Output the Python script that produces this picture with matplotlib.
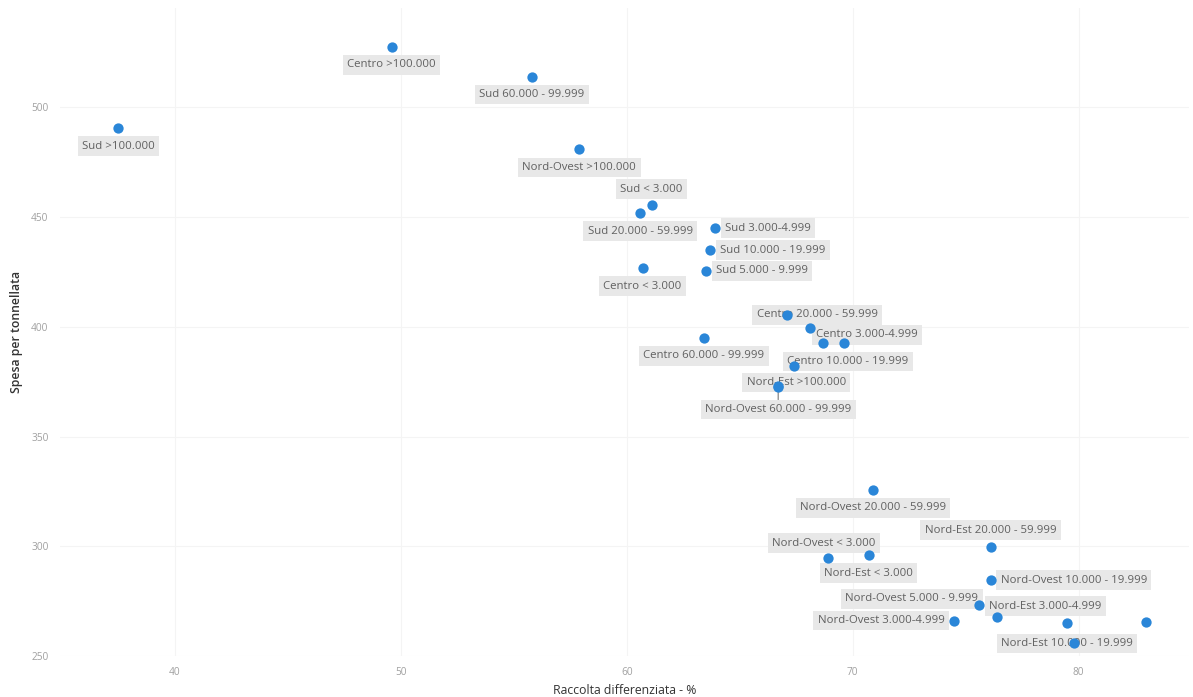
import matplotlib
matplotlib.use('Agg')
from matplotlib import pyplot as plt

# gruppi (area + fascia di popolazione); "" = punto senza etichetta
gruppi = ['Sud >100.000', 'Centro >100.000', 'Sud 60.000 - 99.999',
          'Nord-Ovest >100.000', 'Sud < 3.000', 'Sud 20.000 - 59.999',
          'Sud 3.000-4.999', 'Sud 10.000 - 19.999', 'Sud 5.000 - 9.999',
          'Centro < 3.000', 'Centro 60.000 - 99.999', 'Centro 20.000 - 59.999',
          'Centro 3.000-4.999', '', '', 'Centro 10.000 - 19.999',
          'Nord-Est >100.000', 'Nord-Ovest 60.000 - 99.999',
          'Nord-Ovest 20.000 - 59.999', 'Nord-Est 20.000 - 59.999',
          'Nord-Ovest < 3.000', 'Nord-Est < 3.000',
          'Nord-Ovest 10.000 - 19.999', 'Nord-Ovest 5.000 - 9.999',
          'Nord-Est 3.000-4.999', 'Nord-Ovest 3.000-4.999', '',
          'Nord-Est 10.000 - 19.999', '']
raccolta = [37.5, 49.6, 55.8, 57.9, 61.1, 60.6, 63.9, 63.7, 63.5,
            60.7, 63.4, 67.1, 68.1, 68.7, 69.6, 67.4, 66.7, 66.7,
            70.9, 76.1, 68.9, 70.7, 76.1, 75.6, 76.4, 74.5, 79.5,
            79.8, 83.0]
spesa = [490.5, 527.7, 514.1, 480.9, 455.5, 451.8, 445.0, 435.0, 425.5,
         426.8, 395.0, 405.5, 399.5, 392.7, 392.7, 382.3, 373.2, 372.8,
         325.7, 299.5, 294.5, 295.9, 284.5, 273.2, 267.7, 266.1, 264.8,
         255.7, 265.5]

# posizione etichette (pixel rispetto al punto, allineamento orizzontale)
pos = {
    'Sud 3.000-4.999': (10, 0, 'left'),
    'Sud 10.000 - 19.999': (10, 0, 'left'),
    'Sud 5.000 - 9.999': (10, 0, 'left'),
    'Sud < 3.000': (0, 16, 'center'),
    'Centro 20.000 - 59.999': (30, 0, 'center'),
    'Centro 3.000-4.999': (57, -7, 'center'),
    'Centro 10.000 - 19.999': (54, 4, 'center'),
    'Nord-Est >100.000': (18, 3, 'center'),
    'Nord-Ovest 60.000 - 99.999': (0, -23, 'center'),
    'Nord-Est 20.000 - 59.999': (0, 17, 'center'),
    'Nord-Ovest < 3.000': (-4, 15, 'center'),
    'Nord-Ovest 10.000 - 19.999': (10, 0, 'left'),
    'Nord-Ovest 5.000 - 9.999': (-1, 6, 'right'),
    'Nord-Est 3.000-4.999': (-8, 11, 'left'),
    'Nord-Ovest 3.000-4.999': (-10, 0, 'right'),
    'Nord-Est 10.000 - 19.999': (-7, 0, 'center'),
}

plt.rcParams['font.family'] = ['Open Sans', 'DejaVu Sans']

fig = plt.figure(figsize=(11.93, 6.97), dpi=100)
ax = fig.add_axes([0.05, 0.059, 0.947, 0.93])

ax.scatter(raccolta, spesa, s=55, color='#2a86d8', zorder=3, linewidths=0)

for nome, x, y in zip(gruppi, raccolta, spesa):
    if not nome:
        continue
    dx, dy, ha = pos.get(nome, (0, -18, 'center'))
    arrow = None
    if nome == 'Nord-Ovest 60.000 - 99.999':
        arrow = dict(arrowstyle='-', color='#777777', lw=0.8, shrinkA=0, shrinkB=0)
    ax.annotate(nome, (x, y), xytext=(dx, dy), textcoords='offset pixels',
                ha=ha, va='center', fontsize=8.2, color='#606060', zorder=2,
                bbox=dict(boxstyle='square,pad=0.38', fc='#e8e8e8', ec='none'),
                arrowprops=arrow)

ax.set_xlim(34.9, 84.9)
ax.set_ylim(250, 545.5)
ax.set_xticks([40, 50, 60, 70, 80])
ax.set_yticks([250, 300, 350, 400, 450, 500])
ax.grid(True, color='#f4f4f4', linewidth=0.8)
ax.set_axisbelow(True)
for s in ax.spines.values():
    s.set_visible(False)
ax.tick_params(length=0, labelsize=7.3, labelcolor='#a0a0a0', pad=8)

ax.set_xlabel('Raccolta differenziata - %', fontsize=8.8, color='#333333', labelpad=4)
ax.set_ylabel('Spesa per tonnellata', fontsize=8.8, color='#333333',
              fontweight='semibold', labelpad=6)

fig.savefig('out.png', dpi=100)
